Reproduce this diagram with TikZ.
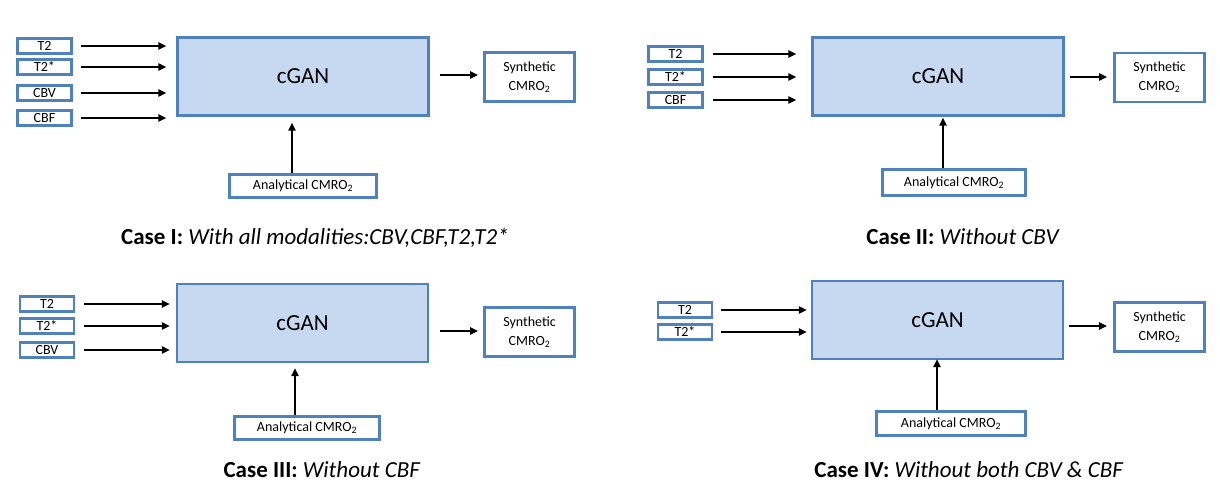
\documentclass[tikz,border=0pt]{standalone}
\usepackage{fontspec}
\setmainfont{Carlito}
\usetikzlibrary{arrows.meta}
\definecolor{bordblue}{HTML}{4F81BD}
\definecolor{ganfill}{HTML}{C6D9F1}
\begin{document}
\begin{tikzpicture}[x=1pt,y=-1pt,
  inbox/.style={draw=bordblue, line width=2.6pt, fill=white, minimum width=54pt, minimum height=15pt, inner sep=0pt, font=\fontsize{14}{15}\selectfont},
  gan/.style={draw=bordblue, line width=2.2pt, fill=ganfill, minimum width=251pt, minimum height=78pt, inner sep=0pt, font=\fontsize{23}{26}\selectfont},
  synbox/.style={draw=bordblue, line width=2.6pt, fill=white, minimum width=90pt, minimum height=49pt, inner sep=0pt, align=center, font=\fontsize{14}{19}\selectfont},
  anbox/.style={draw=bordblue, line width=2.6pt, fill=white, inner sep=0pt, font=\fontsize{14}{15}\selectfont},
  arr/.style={draw=black, line width=2pt, -{Triangle[length=8pt,width=7pt]}},
  casetext/.style={font=\fontsize{23}{26}\selectfont, anchor=center}
]
\useasboundingbox (0,0) rectangle (1220,491);

% ---------- Case I ----------
\node[gan] (g1) at (303,76.5) {cGAN};
\node[inbox] (a1) at (44.5,46) {T2};
\node[inbox] (b1) at (44.5,67) {T2*};
\node[inbox] (c1) at (44.5,93) {CBV};
\node[inbox] (d1) at (44.5,118) {CBF};
\foreach \n in {a1,b1,c1,d1}
  \draw[arr, shorten <=8pt, shorten >=10pt] (\n.east) -- (g1.west |- \n.east);
\node[synbox] (s1) at (529.5,77) {Synthetic\\CMRO\textsubscript{2}};
\draw[arr, shorten <=10pt, shorten >=5pt] (g1.east |- 0,75) -- (s1.west |- 0,75);
\node[anbox, minimum width=147pt, minimum height=23pt] (n1) at (303,186) {Analytical CMRO\textsubscript{2}};
\draw[arr, shorten >=6pt] ([xshift=-11pt]n1.north) -- ([xshift=-11pt]n1.north |- g1.south);
\node[casetext] (t1) at (315,238) {\textbf{Case I:} \textit{With all modalities:CBV,CBF,T2,T2*}};

% ---------- Case II ----------
\node[gan] (g2) at (938,76.5) {cGAN};
\node[inbox] (a2) at (675.5,54) {T2};
\node[inbox] (b2) at (675.5,77) {T2*};
\node[inbox] (c2) at (675.5,100) {CBF};
\foreach \n in {a2,b2,c2}
  \draw[arr, shorten <=9pt, shorten >=15pt] (\n.east) -- (g2.west |- \n.east);
\node[synbox] (s2) at (1159.5,77.5) {Synthetic\\CMRO\textsubscript{2}};
\draw[arr, shorten <=5pt, shorten >=6pt] (g2.east |- 0,77) -- (s2.west |- 0,77);
\node[anbox, minimum width=143pt, minimum height=26pt] (n2) at (954,182.5) {Analytical CMRO\textsubscript{2}};
\draw[arr, shorten >=1pt] ([xshift=-11pt]n2.north) -- ([xshift=-11pt]n2.north |- g2.south);
\node[casetext] (t2) at (963,237) {\textbf{Case II:} \textit{Without CBV}};

% ---------- Case III ----------
\node[gan] (g3) at (302.5,323) {cGAN};
\node[inbox] (a3) at (47,304) {T2};
\node[inbox] (b3) at (47,326) {T2*};
\node[inbox] (c3) at (47,350) {CBV};
\foreach \n in {a3,b3,c3}
  \draw[arr, shorten <=9pt, shorten >=6pt] (\n.east) -- (g3.west |- \n.east);
\node[synbox] (s3) at (529.5,332) {Synthetic\\CMRO\textsubscript{2}};
\draw[arr, shorten <=11pt, shorten >=5pt] (g3.east |- 0,331) -- (s3.west |- 0,331);
\node[anbox, minimum width=145pt, minimum height=23pt] (n3) at (307,428) {Analytical CMRO\textsubscript{2}};
\draw[arr, shorten >=5pt] ([xshift=-12pt]n3.north) -- ([xshift=-12pt]n3.north |- g3.south);
\node[casetext] (t3) at (322,470) {\textbf{Case III:} \textit{Without CBF}};

% ---------- Case IV ----------
\node[gan] (g4) at (937.5,320) {cGAN};
\node[inbox] (a4) at (685,310) {T2};
\node[inbox] (b4) at (685,332) {T2*};
\foreach \n in {a4,b4}
  \draw[arr, shorten <=8pt, shorten >=4pt] (\n.east) -- (g4.west |- \n.east);
\node[synbox] (s4) at (1159.5,327) {Synthetic\\CMRO\textsubscript{2}};
\draw[arr, shorten <=5pt, shorten >=6pt] (g4.east |- 0,326) -- (s4.west |- 0,326);
\node[anbox, minimum width=149pt, minimum height=24pt] (n4) at (951,423.5) {Analytical CMRO\textsubscript{2}};
\draw[arr, shorten >=-1pt] ([xshift=-14pt]n4.north) -- ([xshift=-14pt]n4.north |- g4.south);
\node[casetext] (t4) at (969,470) {\textbf{Case IV:} \textit{Without both CBV \& CBF}};
\end{tikzpicture}
\end{document}
